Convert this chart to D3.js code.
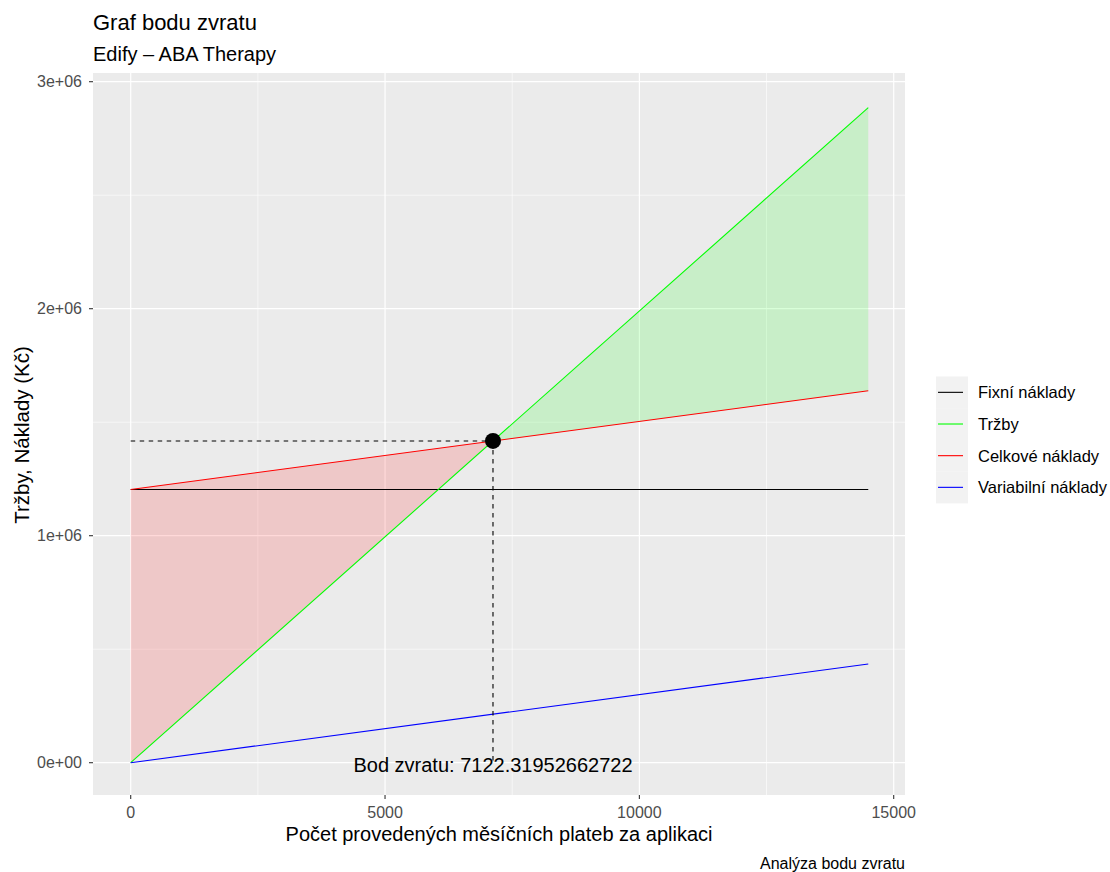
<!DOCTYPE html>
<html><head><meta charset="utf-8">
<script src="https://cdn.jsdelivr.net/npm/d3@7"></script>
<style>
html,body{margin:0;padding:0;background:#fff;}
svg{display:block;font-family:"Liberation Sans",Arial,sans-serif;}
</style></head>
<body><svg id="c" width="1110" height="872"></svg>
<script>
// ---- data ----
const units = [0, 14500];
const fixedCosts = [1203672, 1203672];
const revenue = [0, 2885500];
const totalCosts = [1203672, 1638672];
const variableCosts = [0, 435000];
const breakEvenX = 7122.31952662722;
const breakEvenY = 1417341.59580;
const seriesNames = ["Fixní náklady", "Tržby", "Celkové náklady", "Variabilní náklady"];
const seriesColors = ["#000000", "#00FF00", "#FF0000", "#0000FF"];
const xTicks = [0, 5000, 10000, 15000];
const xMinor = [2500, 7500, 12500];
const yTicks = [0, 1e6, 2e6, 3e6];
const yTickLabels = ["0e+00", "1e+06", "2e+06", "3e+06"];
const yMinor = [5e5, 1.5e6, 2.5e6];
const title = "Graf bodu zvratu";
const subtitle = "Edify – ABA Therapy";
const caption = "Analýza bodu zvratu";
const xTitle = "Počet provedených měsíčních plateb za aplikaci";
const yTitle = "Tržby, Náklady (Kč)";

const svg = d3.select("#c");
const P = {l: 93, r: 905, t: 73, b: 795};
const x = d3.scaleLinear().domain([0, 15000]).range([130.7, 893.7]);
const y = d3.scaleLinear().domain([0, 3e6]).range([762.7, 81.7]);

svg.append("rect").attr("x", P.l).attr("y", P.t).attr("width", P.r - P.l).attr("height", P.b - P.t).attr("fill", "#EBEBEB");

const g = svg.append("g");
xMinor.forEach(v => g.append("line").attr("x1", x(v)).attr("x2", x(v)).attr("y1", P.t).attr("y2", P.b).attr("stroke", "#fff").attr("stroke-width", 0.6));
yMinor.forEach(v => g.append("line").attr("y1", y(v)).attr("y2", y(v)).attr("x1", P.l).attr("x2", P.r).attr("stroke", "#fff").attr("stroke-width", 0.6));
xTicks.forEach(v => g.append("line").attr("x1", x(v)).attr("x2", x(v)).attr("y1", P.t).attr("y2", P.b).attr("stroke", "#fff").attr("stroke-width", 1.2));
yTicks.forEach(v => g.append("line").attr("y1", y(v)).attr("y2", y(v)).attr("x1", P.l).attr("x2", P.r).attr("stroke", "#fff").attr("stroke-width", 1.2));

const mk = vals => units.map((u, i) => ({x: u, y: vals[i]}));
const interp = (vals, u) => vals[0] + (vals[1] - vals[0]) * (u - units[0]) / (units[1] - units[0]);

// shaded areas: loss (revenue below total costs) and profit
const lossPts = [units[0], breakEvenX];
const profitPts = [breakEvenX, units[1]];
const area = d3.area().x(d => x(d.x)).y0(d => y(d.lo)).y1(d => y(d.hi));
g.append("path").datum(lossPts.map(u => ({x: u, lo: interp(revenue, u), hi: interp(totalCosts, u)})))
  .attr("d", area).attr("fill", "#FF0000").attr("fill-opacity", 0.15);
g.append("path").datum(profitPts.map(u => ({x: u, lo: interp(totalCosts, u), hi: interp(revenue, u)})))
  .attr("d", area).attr("fill", "#00FF00").attr("fill-opacity", 0.15);

const line = d3.line().x(d => x(d.x)).y(d => y(d.y));
const seriesVals = [fixedCosts, revenue, totalCosts, variableCosts];
seriesVals.forEach((vals, i) => {
  g.append("path").datum(mk(vals)).attr("d", line).attr("fill", "none")
    .attr("stroke", seriesColors[i]).attr("stroke-width", 1.1);
});

// dashed guides
g.append("line").attr("x1", x(0)).attr("x2", x(breakEvenX)).attr("y1", y(breakEvenY)).attr("y2", y(breakEvenY))
  .attr("stroke", "#000").attr("stroke-width", 1.1).attr("stroke-dasharray", "4.5,4.5");
g.append("line").attr("x1", x(breakEvenX)).attr("x2", x(breakEvenX)).attr("y1", y(breakEvenY)).attr("y2", y(0))
  .attr("stroke", "#000").attr("stroke-width", 1.1).attr("stroke-dasharray", "4.5,4.5");
g.append("circle").attr("cx", x(breakEvenX)).attr("cy", y(breakEvenY)).attr("r", 8).attr("fill", "#000");
g.append("text").attr("x", x(breakEvenX)).attr("y", 772).attr("text-anchor", "middle")
  .attr("font-size", 20).attr("fill", "#000").text("Bod zvratu: " + breakEvenX);

// axes
const ax = svg.append("g");
xTicks.forEach(v => {
  ax.append("line").attr("x1", x(v)).attr("x2", x(v)).attr("y1", P.b).attr("y2", P.b + 4).attr("stroke", "#333").attr("stroke-width", 1.1);
  ax.append("text").attr("x", x(v)).attr("y", 818).attr("text-anchor", "middle").attr("font-size", 16).attr("fill", "#4D4D4D").text(v);
});
yTicks.forEach((v, i) => {
  ax.append("line").attr("x1", P.l - 4).attr("x2", P.l).attr("y1", y(v)).attr("y2", y(v)).attr("stroke", "#333").attr("stroke-width", 1.1);
  ax.append("text").attr("x", 82).attr("y", y(v)).attr("dy", "0.36em").attr("text-anchor", "end").attr("font-size", 16).attr("fill", "#4D4D4D").text(yTickLabels[i]);
});
svg.append("text").attr("x", (P.l + P.r) / 2).attr("y", 841).attr("text-anchor", "middle").attr("font-size", 20).attr("fill", "#000").text(xTitle);
svg.append("text").attr("transform", `translate(29,435) rotate(-90)`).attr("text-anchor", "middle").attr("font-size", 20.5).attr("fill", "#000").text(yTitle);

// titles
svg.append("text").attr("x", P.l).attr("y", 30).attr("font-size", 22).attr("fill", "#000").text(title);
svg.append("text").attr("x", P.l).attr("y", 61).attr("font-size", 20).attr("fill", "#000").text(subtitle);
svg.append("text").attr("x", P.r).attr("y", 869).attr("text-anchor", "end").attr("font-size", 16).attr("fill", "#000").text(caption);

// legend
const lg = svg.append("g");
const ly0 = 376.5, lh = 31.67;
seriesNames.forEach((n, i) => {
  const yy = ly0 + i * lh;
  lg.append("rect").attr("x", 936).attr("y", yy).attr("width", 32).attr("height", lh + 0.2).attr("fill", "#F2F2F2");
  lg.append("line").attr("x1", 938).attr("x2", 963).attr("y1", yy + lh / 2).attr("y2", yy + lh / 2).attr("stroke", seriesColors[i]).attr("stroke-width", 1.1);
  lg.append("text").attr("x", 978).attr("y", yy + lh / 2).attr("dy", "0.36em").attr("font-size", 16.5).attr("fill", "#000").text(n);
});
</script></body></html>
